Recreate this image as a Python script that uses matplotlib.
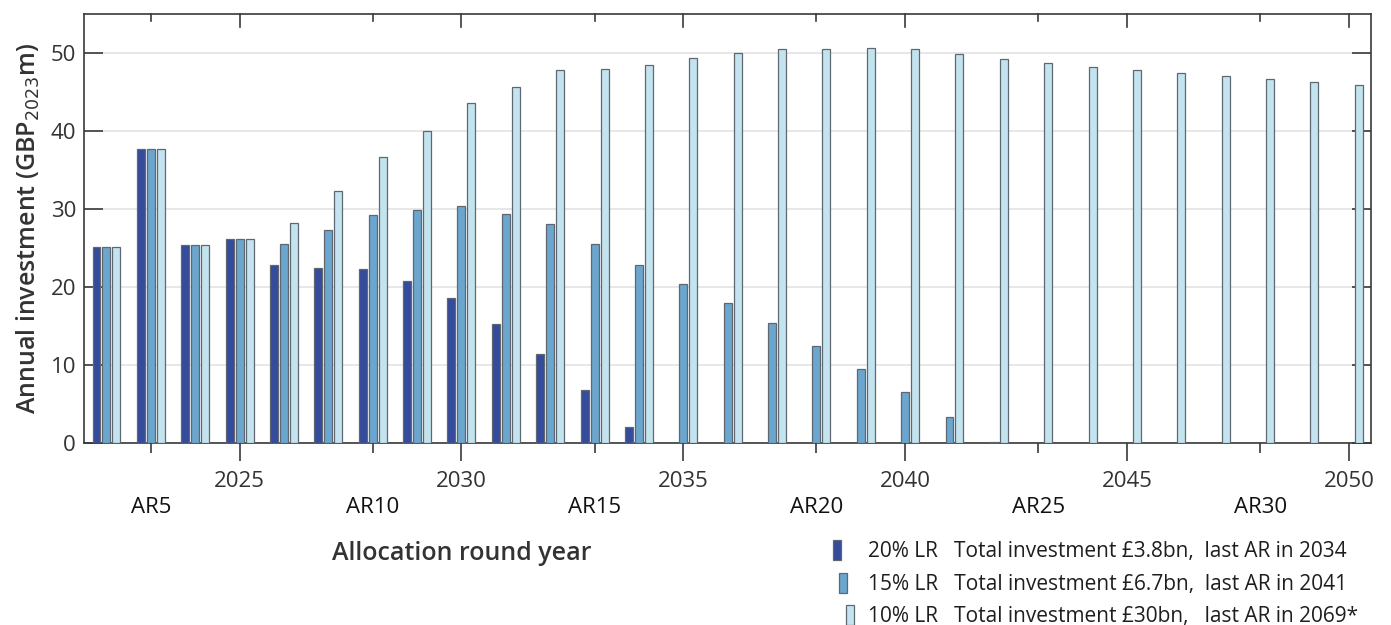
import matplotlib
matplotlib.use("Agg")
import matplotlib.pyplot as plt
import numpy as np
from matplotlib.patches import Rectangle
from matplotlib.legend_handler import HandlerPatch

plt.rcParams['font.family'] = ['Open Sans', 'DejaVu Sans']

years = list(range(2022, 2051))
lr20 = [25.1, 37.7, 25.3, 26.1, 22.8, 22.4, 22.2, 20.7, 18.6, 15.2, 11.4, 6.7, 2.0,
        0, 0, 0, 0, 0, 0, 0, 0, 0, 0, 0, 0, 0, 0, 0, 0]
lr15 = [25.1, 37.7, 25.3, 26.1, 25.4, 27.2, 29.2, 29.8, 30.3, 29.3, 28.0, 25.4, 22.8,
        20.4, 17.9, 15.3, 12.4, 9.5, 6.5, 3.3, 0.15, 0, 0, 0, 0, 0, 0, 0, 0]
lr10 = [25.1, 37.7, 25.3, 26.1, 28.1, 32.2, 36.6, 39.9, 43.5, 45.6, 47.7, 47.95, 48.4,
        49.3, 50.0, 50.4, 50.5, 50.6, 50.4, 49.8, 49.15, 48.6, 48.2, 47.7, 47.4, 47.0,
        46.6, 46.2, 45.8]
major_ticks = [2025, 2030, 2035, 2040, 2045, 2050]
ar_ticks = [2023, 2028, 2033, 2038, 2043, 2048]
ar_labels = ['AR5', 'AR10', 'AR15', 'AR20', 'AR25', 'AR30']
yticks = [0, 10, 20, 30, 40, 50]
legend_labels = ['20% LR   Total investment £3.8bn,  last AR in 2034',
                 '15% LR   Total investment £6.7bn,  last AR in 2041',
                 '10% LR   Total investment £30bn,   last AR in 2069*']

colors = ['#354B9B', '#6BA6CE', '#C3E4EE']
edge = '#5f6870'

fig = plt.figure(figsize=(13.91, 6.25), dpi=100)
ax = fig.add_axes([84.3 / 1391, 1 - 442.7 / 625, (1371 - 84.3) / 1391, (442.7 - 13.5) / 625])

x = np.array(years, dtype=float)
off = 0.225
w = 0.18
series = [lr20, lr15, lr10]
handles = []
for i, (vals, c) in enumerate(zip(series, colors)):
    v = np.array(vals, dtype=float)
    mask = v > 0
    ax.bar(x[mask] + (i - 1) * off, v[mask], width=w, color=c,
           edgecolor=edge, linewidth=0.9, zorder=3)
    handles.append(Rectangle((0, 0), 1, 1, facecolor=c, edgecolor=edge, linewidth=0.9))

ax.set_xlim(2021.5, 2050.5)
ax.set_ylim(0, 55)
ax.set_yticks(yticks)
ax.yaxis.grid(True, color='#e3e3e3', linewidth=1.2, zorder=0)
ax.set_axisbelow(True)

ax.set_xticks(major_ticks)
ax.set_xticks(ar_ticks, minor=True)
ax.set_xticklabels([str(t) for t in major_ticks])
ax.set_xticklabels(ar_labels, minor=True)

for s in ax.spines.values():
    s.set_color('#3a3a3a')
    s.set_linewidth(1.2)

ax.tick_params(axis='x', which='major', direction='out', length=13, width=1.2,
               color='#3a3a3a', labelsize=16, labelcolor='#333333', pad=7.5, top=False)
ax.tick_params(axis='x', which='minor', direction='out', length=7, width=1.2,
               color='#3a3a3a', labelsize=16, labelcolor='#111111', pad=32, top=False)
ax.tick_params(axis='y', which='major', direction='in', length=14, width=1.2,
               color='#3a3a3a', labelsize=16, labelcolor='#333333', right=True, pad=6)

# top ticks (inward)
for t in major_ticks:
    ax.plot([t, t], [55, 55 - 55 * 13 / 429.2], color='#3a3a3a', lw=1.2, clip_on=False, zorder=4)
for t in ar_ticks:
    ax.plot([t, t], [55, 55 - 55 * 7 / 429.2], color='#3a3a3a', lw=1.2, clip_on=False, zorder=4)

ax.set_ylabel('Annual investment (GBP$_{2023}$m)', fontsize=18, fontweight='semibold',
              color='#333333', labelpad=6)
ax.set_xlabel('Allocation round year', fontsize=18, fontweight='semibold', color='#333333')
ax.xaxis.set_label_coords((462 - 84.3) / (1371 - 84.3), -0.228)


def make_handler(dx):
    def f(legend, orig_handle, xdescent, ydescent, width, height, fontsize):
        return Rectangle((-xdescent + dx, -ydescent), width, height)
    return HandlerPatch(patch_func=f)


leg = fig.legend(handles, legend_labels, loc='upper left',
                 bbox_to_anchor=(833 / 1391, 1 - 540 / 625),
                 frameon=False, fontsize=15, handlelength=0.384, handleheight=1.1,
                 handletextpad=1.3, labelspacing=0.5, borderpad=0, borderaxespad=0,
                 handler_map={handles[0]: make_handler(0), handles[1]: make_handler(4.3),
                              handles[2]: make_handler(9.4)})
for t in leg.get_texts():
    t.set_color('#1e1e1e')

fig.savefig('out.png', dpi=100)
